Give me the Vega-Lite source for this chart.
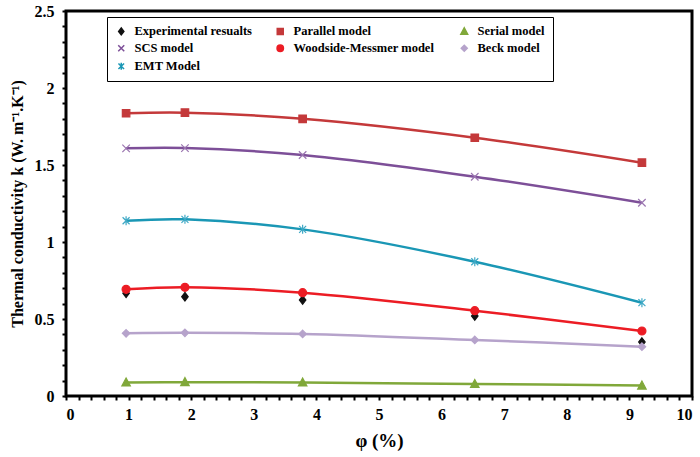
{
  "$schema": "https://vega.github.io/schema/vega-lite/v6.json",
  "width": 626,
  "height": 385,
  "autosize": {"type": "none"},
  "padding": {"left": 66, "top": 11, "right": 8, "bottom": 61},
  "background": "white",
  "data": {
    "values": [
      {"phi": 0.96, "series": "Experimental resualts", "k": 0.667},
      {"phi": 1.9, "series": "Experimental resualts", "k": 0.645},
      {"phi": 3.78, "series": "Experimental resualts", "k": 0.623},
      {"phi": 6.53, "series": "Experimental resualts", "k": 0.52},
      {"phi": 9.2, "series": "Experimental resualts", "k": 0.35},
      {"phi": 0.96, "series": "Parallel model", "k": 1.836},
      {"phi": 1.9, "series": "Parallel model", "k": 1.84},
      {"phi": 3.78, "series": "Parallel model", "k": 1.80},
      {"phi": 6.53, "series": "Parallel model", "k": 1.677},
      {"phi": 9.2, "series": "Parallel model", "k": 1.515},
      {"phi": 0.96, "series": "Serial model", "k": 0.088},
      {"phi": 1.9, "series": "Serial model", "k": 0.09},
      {"phi": 3.78, "series": "Serial model", "k": 0.088},
      {"phi": 6.53, "series": "Serial model", "k": 0.078},
      {"phi": 9.2, "series": "Serial model", "k": 0.068},
      {"phi": 0.96, "series": "SCS model", "k": 1.608},
      {"phi": 1.9, "series": "SCS model", "k": 1.61},
      {"phi": 3.78, "series": "SCS model", "k": 1.565},
      {"phi": 6.53, "series": "SCS model", "k": 1.424},
      {"phi": 9.2, "series": "SCS model", "k": 1.255},
      {"phi": 0.96, "series": "Woodside-Messmer model", "k": 0.693},
      {"phi": 1.9, "series": "Woodside-Messmer model", "k": 0.706},
      {"phi": 3.78, "series": "Woodside-Messmer model", "k": 0.671},
      {"phi": 6.53, "series": "Woodside-Messmer model", "k": 0.554},
      {"phi": 9.2, "series": "Woodside-Messmer model", "k": 0.422},
      {"phi": 0.96, "series": "Beck model", "k": 0.407},
      {"phi": 1.9, "series": "Beck model", "k": 0.41},
      {"phi": 3.78, "series": "Beck model", "k": 0.403},
      {"phi": 6.53, "series": "Beck model", "k": 0.364},
      {"phi": 9.2, "series": "Beck model", "k": 0.32},
      {"phi": 0.96, "series": "EMT Model", "k": 1.138},
      {"phi": 1.9, "series": "EMT Model", "k": 1.147},
      {"phi": 3.78, "series": "EMT Model", "k": 1.082},
      {"phi": 6.53, "series": "EMT Model", "k": 0.872},
      {"phi": 9.2, "series": "EMT Model", "k": 0.606}
    ]
  },
  "encoding": {
    "x": {
      "field": "phi",
      "type": "quantitative",
      "scale": {"domain": [0, 10], "nice": false, "zero": false},
      "axis": {
        "title": "φ (%)",
        "values": [0, 0.2, 0.4, 0.6, 0.8, 1, 1.2, 1.4, 1.6, 1.8, 2, 2.2, 2.4, 2.6, 2.8, 3, 3.2, 3.4, 3.6, 3.8, 4, 4.2, 4.4, 4.6, 4.8, 5, 5.2, 5.4, 5.6, 5.8, 6, 6.2, 6.4, 6.6, 6.8, 7, 7.2, 7.4, 7.6, 7.8, 8, 8.2, 8.4, 8.6, 8.8, 9, 9.2, 9.4, 9.6, 9.8, 10],
        "labelExpr": "abs(datum.value - round(datum.value)) < 0.001 ? format(datum.value, '~g') : ''",
        "tickSize": 4,
        "labelPadding": 6,
        "titlePadding": 9,
        "titleFontSize": 19
      }
    },
    "y": {
      "field": "k",
      "type": "quantitative",
      "scale": {"domain": [0, 2.5], "nice": false},
      "axis": {
        "title": "Thermal conductivity k (W. m⁻¹.K⁻¹)",
        "values": [0, 0.1, 0.2, 0.3, 0.4, 0.5, 0.6, 0.7, 0.8, 0.9, 1, 1.1, 1.2, 1.3, 1.4, 1.5, 1.6, 1.7, 1.8, 1.9, 2, 2.1, 2.2, 2.3, 2.4, 2.5],
        "labelExpr": "abs(datum.value * 2 - round(datum.value * 2)) < 0.001 ? format(datum.value, '~g') : ''",
        "tickSize": 4,
        "labelPadding": 8,
        "titlePadding": 9,
        "titleFontSize": 16
      }
    }
  },
  "layer": [
    {
      "transform": [{"filter": "datum.series !== 'Experimental resualts'"}],
      "mark": {"type": "line", "interpolate": "catmull-rom", "strokeWidth": 2.5},
      "encoding": {
        "color": {"field": "series", "type": "nominal"},
        "detail": {"field": "series", "type": "nominal"}
      }
    },
    {
      "mark": {"type": "point", "filled": true, "size": 100, "strokeWidth": 1.2, "opacity": 1},
      "encoding": {
        "color": {
          "field": "series",
          "type": "nominal",
          "scale": {
            "domain": ["Experimental resualts", "Parallel model", "Serial model", "SCS model", "Woodside-Messmer model", "Beck model", "EMT Model"],
            "range": ["#111111", "#C4393A", "#80A83A", "#7D4F98", "#EC1C24", "#B6A3CB", "#1A97B5"]
          },
          "legend": {
            "title": null,
            "orient": "none",
            "legendX": 41,
            "legendY": 6,
            "columns": 3,
            "direction": "horizontal",
            "padding": 8,
            "fillColor": "white",
            "strokeColor": "black",
            "symbolSize": 64,
            "labelOffset": 7,
            "columnPadding": 22,
            "rowPadding": 4,
            "labelFont": "Liberation Serif",
            "labelFontWeight": "bold",
            "labelFontSize": 12.5,
            "labelColor": "black"
          }
        },
        "stroke": {
          "field": "series",
          "type": "nominal",
          "scale": {
            "domain": ["Experimental resualts", "Parallel model", "Serial model", "SCS model", "Woodside-Messmer model", "Beck model", "EMT Model"],
            "range": ["#111111", "#C4393A", "#80A83A", "#9B76B0", "#EC1C24", "#B6A3CB", "#3FA9C6"]
          },
          "legend": null
        },
        "shape": {
          "field": "series",
          "type": "nominal",
          "scale": {
            "domain": ["Experimental resualts", "Parallel model", "Serial model", "SCS model", "Woodside-Messmer model", "Beck model", "EMT Model"],
            "range": [
              "M0,-0.85L0.65,0L0,0.85L-0.65,0Z",
              "M-0.75,-0.75H0.75V0.75H-0.75Z",
              "M0,-0.9L0.85,0.7H-0.85Z",
              "M-0.75,-0.75L0.75,0.75M-0.75,0.75L0.75,-0.75",
              "M-0.8,0A0.8,0.8 0 1,0 0.8,0A0.8,0.8 0 1,0 -0.8,0Z",
              "M0,-0.75L0.75,0L0,0.75L-0.75,0Z",
              "M-0.7,-0.7L0.7,0.7M-0.7,0.7L0.7,-0.7M0,-0.9V0.9"
            ]
          },
          "legend": null
        }
      }
    }
  ],
  "config": {
    "view": {"stroke": "black", "strokeWidth": 3},
    "font": "Liberation Serif",
    "axis": {
      "grid": false,
      "domain": false,
      "tickColor": "black",
      "tickWidth": 2,
      "labelFont": "Liberation Serif",
      "labelFontWeight": "bold",
      "labelFontSize": 16,
      "labelColor": "black",
      "titleFont": "Liberation Serif",
      "titleFontWeight": "bold",
      "titleColor": "black"
    }
  }
}
